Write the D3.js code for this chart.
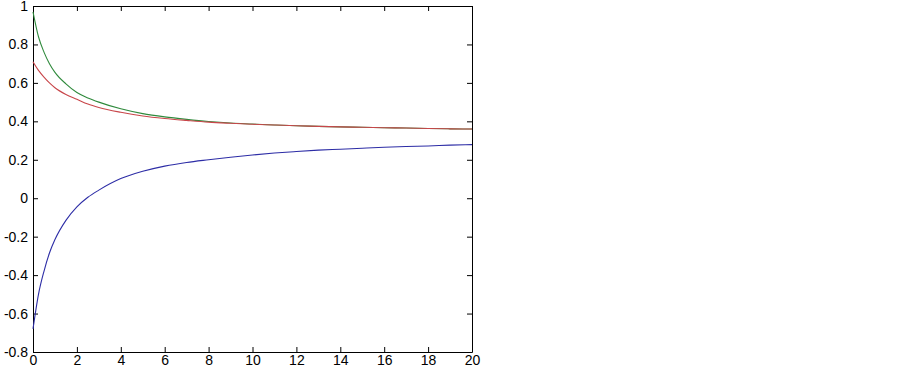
<!DOCTYPE html>
<html>
<head>
<meta charset="utf-8">
<script src="https://cdn.jsdelivr.net/npm/d3@7"></script>
<style>
    body { margin: 0; background: #fff; }
    svg { display: block; }
    .tick text { font-family: "Liberation Sans", Arial, sans-serif; font-size: 14px; fill: #000; }
</style>
</head>
<body>
<div id="chart"></div>
<script>
"use strict";

// values
const t_values = [0, 0.25, 0.5, 0.75, 1, 1.5, 2, 2.5, 3, 4, 5, 6, 7, 8, 9, 10, 11, 12, 13, 14, 15, 16, 17, 18, 19, 20];
const blue_values = [-0.68, -0.50, -0.38, -0.285, -0.215, -0.115, -0.045, 0.005, 0.042, 0.102, 0.14, 0.167, 0.186, 0.20, 0.213, 0.225, 0.235, 0.243, 0.25, 0.255, 0.26, 0.265, 0.269, 0.272, 0.276, 0.279];
const green_values = [0.97, 0.84, 0.76, 0.70, 0.655, 0.595, 0.55, 0.522, 0.50, 0.465, 0.44, 0.423, 0.41, 0.399, 0.391, 0.386, 0.381, 0.377, 0.374, 0.371, 0.369, 0.367, 0.365, 0.363, 0.361, 0.36];
const red_values = [0.71, 0.665, 0.63, 0.60, 0.575, 0.54, 0.515, 0.49, 0.472, 0.447, 0.428, 0.415, 0.405, 0.396, 0.39, 0.385, 0.381, 0.377, 0.374, 0.371, 0.369, 0.367, 0.365, 0.363, 0.361, 0.36];
const x_ticks = [0, 2, 4, 6, 8, 10, 12, 14, 16, 18, 20];
const y_ticks = [-0.8, -0.6, -0.4, -0.2, 0, 0.2, 0.4, 0.6, 0.8, 1];

const width = 903, height = 370;
const margin = {top: 6, right: 431, bottom: 18, left: 33};
const w = width - margin.left - margin.right, h = height - margin.top - margin.bottom;

const svg = d3.select('#chart').append('svg')
    .attr('width', width)
    .attr('height', height);

const g = svg.append('g')
    .attr('transform', `translate(${margin.left},${margin.top})`);

const xScale = d3.scaleLinear().domain([0, 20]).range([0, w]);
const yScale = d3.scaleLinear().domain([-0.8, 1]).range([h, 0]);

const fmt = d => d3.format('~g')(d).replace('\u2212', '-');

// inward ticks on all four sides, matlab style
g.append('g')
    .attr('transform', `translate(0,${h})`)
    .call(d3.axisBottom(xScale).tickValues(x_ticks).tickFormat(fmt).tickSizeInner(-5).tickSizeOuter(0).tickPadding(3));
g.append('g')
    .call(d3.axisTop(xScale).tickValues(x_ticks).tickFormat('').tickSizeInner(-5).tickSizeOuter(0));
g.append('g')
    .call(d3.axisLeft(yScale).tickValues(y_ticks).tickFormat(fmt).tickSizeInner(-5).tickSizeOuter(0).tickPadding(5));
g.append('g')
    .attr('transform', `translate(${w},0)`)
    .call(d3.axisRight(yScale).tickValues(y_ticks).tickFormat('').tickSizeInner(-5).tickSizeOuter(0));

g.selectAll('.domain').attr('stroke', '#000');
g.selectAll('.tick line').attr('stroke', '#000');

const series = [
    {values: blue_values, color: '#2d2da6'},
    {values: green_values, color: '#2f8a3c'},
    {values: red_values, color: '#c8464a'}
];

const line = d3.line()
    .x((d, i) => xScale(t_values[i]))
    .y(d => yScale(d))
    .curve(d3.curveMonotoneX);

g.selectAll('.series')
    .data(series)
    .enter().append('path')
    .attr('class', 'series')
    .attr('d', d => line(d.values))
    .attr('fill', 'none')
    .attr('stroke', d => d.color)
    .attr('stroke-width', 1.1);
</script>
</body>
</html>
